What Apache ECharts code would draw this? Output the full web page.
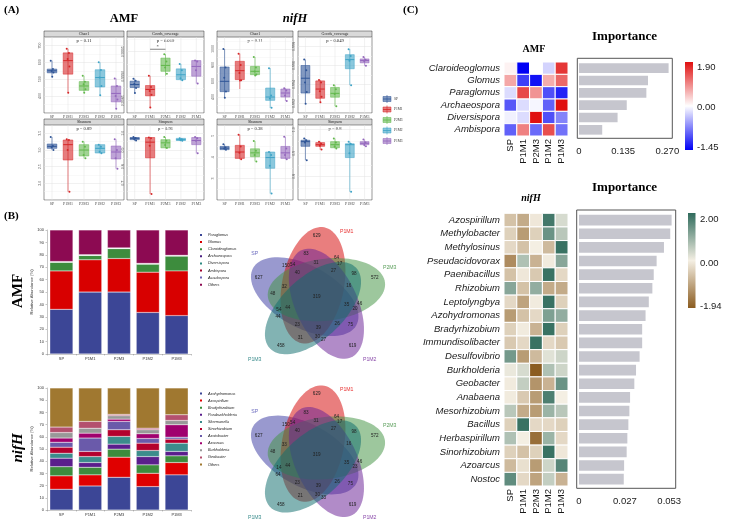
<!DOCTYPE html>
<html><head><meta charset="utf-8">
<script src="https://cdn.jsdelivr.net/npm/echarts@6.0.0/dist/echarts.min.js"></script>
<style>html,body{margin:0;padding:0;background:#fff;}#chart{width:730px;height:525px;}</style>
</head><body><div id="chart"></div>
<script>
// ======================= DATA =======================
const groups = ['SP', 'P1M1', 'P2M3', 'P1M2', 'P1M3'];

// ---- Panel A: box statistics [min, Q1, median, Q3, max] and sample points ----
const amfChao1Box = [[515,538,550,560,610],[420,530,610,656,680],[420,434,460,486,520],[405,454,510,556,600],[325,366,416,460,505]];
const amfChao1Pts = [[610,560,548,540,515],[680,655,620,575,420],[520,485,470,440,420],[600,555,510,460,405],[505,460,400,380,325]];
const amfChao1Ticks = ['400','500','600','700'];

const amfGoodsBox = [[0.99865,0.99877,0.99883,0.99890,0.99895],[0.99836,0.99860,0.99873,0.99881,0.99901],[0.99901,0.99910,0.99922,0.99937,0.99945],[0.99891,0.99893,0.99903,0.99915,0.99925],[0.99885,0.99900,0.99920,0.99932,0.99932]];
const amfGoodsPts = [[0.99895,0.99891,0.99884,0.99876,0.99866],[0.99901,0.99878,0.99870,0.99862,0.99836],[0.99945,0.99930,0.99918,0.99905],[0.99925,0.99912,0.99896,0.99892],[0.99932,0.99930,0.99912,0.99885]];
const amfGoodsTicks = ['0.9985','0.9990','0.9995'];
const amfGoodsSig = [1, 2, 0.99955];

const nifChao1Box = [[388,467,596,775,1000],[500,617,729,846,942],[667,679,721,783,900],[262,358,400,512,762],[350,400,450,500,510]];
const nifChao1Pts = [[1000,770,640,470,390],[940,800,700,610,605],[900,770,720,680,670],[760,420,380,265],[510,480,420,350]];
const nifChao1Ticks = ['400','600','800','1000'];

const nifGoodsBox = [[0.99197,0.9931,0.99466,0.9960,0.99662],[0.99214,0.99255,0.99352,0.99438,0.99448],[0.99172,0.99266,0.99307,0.99369,0.99393],[0.99393,0.99566,0.99662,0.99714,0.99772],[0.99597,0.99628,0.99652,0.99669,0.99690]];
const nifGoodsPts = [[0.99662,0.99550,0.99420,0.99320,0.99197],[0.99448,0.99420,0.99330,0.99270,0.99214],[0.99393,0.99350,0.99300,0.99172],[0.99772,0.99700,0.99650,0.99393],[0.99690,0.99660,0.99645,0.99597]];
const nifGoodsTicks = ['0.992','0.994','0.996','0.998'];

const amfShannonBox = [[3.0,3.05,3.11,3.18,3.39],[1.75,2.70,3.16,3.30,3.32],[2.75,2.82,3.0,3.16,3.25],[2.90,2.91,3.05,3.16,3.16],[2.44,2.73,2.94,3.12,3.32]];
const amfShannonPts = [[3.39,3.12,3.08,3.0],[3.32,3.30,3.0,1.75],[3.25,3.10,2.85,2.75],[3.16,3.10,2.95,2.90],[3.32,3.0,2.75,2.44]];
const amfShannonTicks = ['2.0','2.5','3.0','3.5'];

const amfSimpsonBox = [[0.955,0.962,0.97,0.975,0.978],[0.636,0.853,0.947,0.975,0.975],[0.91,0.913,0.943,0.962,0.978],[0.955,0.957,0.962,0.97,0.97],[0.88,0.932,0.957,0.975,0.978]];
const amfSimpsonPts = [[0.978,0.972,0.965,0.957],[0.975,0.970,0.925,0.636],[0.978,0.955,0.930,0.912],[0.970,0.965,0.958,0.955],[0.978,0.970,0.955,0.880]];
const amfSimpsonTicks = ['0.7','0.8','0.9','1.0'];

const nifShannonBox = [[4.35,4.35,4.42,4.5,4.6],[3.9,3.94,4.24,4.55,5.05],[3.8,4.02,4.2,4.39,4.75],[2.3,3.48,3.98,4.24,4.24],[3.9,3.94,4.2,4.5,4.95]];
const nifShannonPts = [[4.6,4.45,4.4,4.35],[5.05,4.5,4.2,3.9],[4.75,4.3,4.1,3.8],[4.24,4.1,3.6,2.3],[4.95,4.4,4.1,3.9]];
const nifShannonTicks = ['3','4','5'];

const nifSimpsonBox = [[0.87,0.929,0.949,0.955,0.962],[0.915,0.929,0.936,0.945,0.949],[0.92,0.923,0.936,0.949,0.962],[0.735,0.881,0.936,0.94,0.949],[0.929,0.936,0.942,0.949,0.958]];
const nifSimpsonPts = [[0.962,0.955,0.945,0.87],[0.949,0.940,0.932,0.915],[0.962,0.945,0.928,0.92],[0.949,0.940,0.90,0.735],[0.958,0.945,0.935,0.929]];
const nifSimpsonTicks = ['0.8','0.9','1.0'];

// ---- Panel B: relative abundance (%) ----
const amfTaxa = ['Paraglomus','Glomus','Claroideoglomus','Archaeospora','Diversispora','Ambispora','Acaulospora','Others'];
const amfParaglomus = [36, 50, 50, 33.5, 31];
const amfGlomus = [31, 26, 27, 32.5, 36];
const amfClaroideoglomus = [7, 3.5, 8, 6.5, 12];
const amfArchaeospora = [0.2, 0.2, 0.2, 0.2, 0.2];
const amfDiversispora = [0.2, 0.2, 0.2, 0.2, 0.2];
const amfAmbispora = [0.1, 0.1, 0.1, 0.1, 0.1];
const amfAcaulospora = [0.1, 0.1, 0.1, 0.1, 0.1];
const amfOthers = [25.4, 19.9, 14.4, 26.9, 20.4];

const nifTaxa = ['Azohydromonas','Azospirillum','Bradyrhizobium','Paraburkholderia','Skermanella','Sinorhizobium','Azotobacter','Azoarcus','Burkholderia','Geobacter','Others '];
const nifAzohydromonas = [17, 19.7, 26.8, 19.2, 28.8];
const nifAzospirillum = [11, 9.1, 16.5, 10.9, 10.1];
const nifBradyrhizobium = [7.5, 6.2, 6.6, 6.9, 5.5];
const nifParaburkholderia = [7, 3.9, 4.1, 6.8, 3.6];
const nifSkermanella = [4, 4.9, 6.3, 5, 6.8];
const nifSinorhizobium = [5, 4.2, 5.5, 6, 3.3];
const nifAzotobacter = [4, 11, 6.8, 3.8, 1.6];
const nifAzoarcus = [3.5, 4, 1.9, 3.9, 10.2];
const nifBurkholderia = [4.5, 4, 2.8, 3.3, 3.5];
const nifGeobacter = [4.5, 5.6, 1.1, 1.3, 4.7];
const nifOthers = [32, 27.4, 21.6, 32.9, 21.9];

// ---- Panel B: Venn counts (order of sets: SP, P1M1, P2M3, P1M2, P1M3) ----
const vennSets = ['SP','P1M1','P2M3','P1M2','P1M3'];
const amfVennUnique = [627, 629, 572, 619, 458];
const amfVennRingB = [48, 83, 98, 75, 31];
const amfVennRingD = [32, 31, 16, 26, 23];
const amfVennRingE = [40, 27, 35, 39, 44];
const amfVennPairOuter = [150, 64, 46, 27, 44];
const amfVennPairInner = [54, 17, 20, 30, 54];
const amfVennCore = 319;
const nifVennUnique = [627, 629, 572, 619, 458];
const nifVennRingB = [48, 83, 98, 75, 21];
const nifVennRingD = [33, 31, 16, 26, 23];
const nifVennRingE = [40, 27, 35, 39, 44];
const nifVennPairOuter = [150, 64, 46, 33, 64];
const nifVennPairInner = [54, 17, 23, 30, 14];
const nifVennCore = 319;

// ---- Panel C: z-scores and importance ----
const amfGenera = ['Claroideoglomus','Glomus','Paraglomus','Archaeospora','Diversispora','Ambispora'];
const amfHeat = [
  [0.1, -1.45, 0.0, -0.25, 1.6],
  [0.7, -1.1, -1.35, 0.65, 1.2],
  [-0.2, 1.45, 0.85, -1.0, -1.25],
  [-0.95, -0.2, -0.05, -0.9, 1.9],
  [-0.08, -0.2, 1.9, -1.0, -0.7],
  [-0.9, 1.0, -0.85, 1.4, -0.8]];
const amfImportance = [0.274, 0.211, 0.206, 0.146, 0.118, 0.071];
const amfImpTicks = ['0', '0.135', '0.270'];
const amfScaleLabels = ['1.90', '0.00', '-1.45'];

const nifGenera = ['Azospirillum','Methylobacter','Methylosinus','Pseudacidovorax','Paenibacillus','Rhizobium','Leptolyngbya','Azohydromonas','Bradyrhizobium','Immundisolibacter','Desulfovibrio','Burkholderia','Geobacter','Anabaena','Mesorhizobium','Bacillus','Herbaspirillum','Sinorhizobium','Azoarcus','Nostoc'];
const nifHeat = [
  [-0.6,-0.9,-0.1,1.8,0.3],
  [-0.4,-1.1,-0.4,1.4,0.6],
  [-0.3,-0.6,0.0,-0.7,1.9],
  [-1.3,0.7,-0.8,-0.05,1.1],
  [-0.6,-0.1,-0.5,1.9,-0.3],
  [1.1,-0.6,1.0,-0.9,-0.9],
  [-0.3,-1.0,-0.05,1.9,-0.4],
  [-1.1,-0.6,-0.3,1.2,1.0],
  [-0.4,-0.05,-0.8,1.9,-0.4],
  [-0.5,-0.3,1.9,-0.3,-0.5],
  [1.3,-1.1,-0.7,0.2,0.4],
  [0.1,0.3,-1.94,0.7,0.4],
  [-0.05,0.5,-1.2,-0.8,1.4],
  [-0.05,-0.5,-1.1,1.7,0.0],
  [0.6,-0.9,-1.1,0.9,0.6],
  [-0.4,1.9,-0.3,-0.3,-0.4],
  [0.7,0.0,-1.7,0.9,-0.3],
  [-0.4,-0.6,-0.4,1.9,-0.1],
  [-0.7,-0.2,-1.1,0.4,1.6],
  [1.5,-0.3,-1.0,0.5,-0.8]];
const nifImportance = [0.0544,0.0536,0.0499,0.0456,0.0439,0.0431,0.0410,0.0391,0.0371,0.0371,0.0356,0.0335,0.0325,0.0300,0.0296,0.0290,0.0284,0.0280,0.0265,0.0263];
const nifImpTicks = ['0', '0.027', '0.053'];
const nifScaleLabels = ['2.00', '0.00', '-1.94'];

// ======================= STYLE / LAYOUT =======================
const FS = 'Liberation Serif, Times New Roman, serif';
const SS = 'Liberation Sans, Arial, Helvetica, sans-serif';
const boxColors = ['#2f5597', '#d62728', '#62b84c', '#3ea3c6', '#9467bd'];
const jitter = [-0.16, 0.12, -0.05, 0.18, 0.03];

function rgba(hex, a) { const n = parseInt(hex.slice(1), 16); return 'rgba(' + (n >> 16 & 255) + ',' + (n >> 8 & 255) + ',' + (n & 255) + ',' + a + ')'; }
function mix(h1, h2, t) {
  const a = parseInt(h1.slice(1), 16), b = parseInt(h2.slice(1), 16);
  const c = (s) => Math.round((a >> s & 255) * (1 - t) + (b >> s & 255) * t);
  return 'rgb(' + c(16) + ',' + c(8) + ',' + c(0) + ')';
}

const option = { backgroundColor: '#ffffff', animation: false, grid: [], xAxis: [], yAxis: [], series: [], legend: [], graphic: [] };
const G = option.graphic;
function addGrid(g) { option.grid.push(Object.assign({ containLabel: false }, g)); return option.grid.length - 1; }
function txt(x, y, text, st, rot) {
  G.push({ type: 'text', x: x, y: y, rotation: rot || 0, silent: true,
    style: Object.assign({ text: text, fill: '#000', align: 'center', verticalAlign: 'middle', fontFamily: FS, fontSize: 10 }, st || {}) });
}

// ======================= PANEL A =======================
txt(4, 10, '(A)', { fontWeight: 'bold', fontSize: 11, align: 'left' });
txt(124, 19, 'AMF', { fontWeight: 'bold', fontSize: 12.5 });
txt(295, 19, 'nifH', { fontWeight: 'bold', fontStyle: 'italic', fontSize: 12.5 });

const aPanels = [
  { strip: 'Chao1', p: 'p = 0.11', box: amfChao1Box, pts: amfChao1Pts, ticks: amfChao1Ticks, min: 300, max: 750, step: 50, rect: [44, 37, 80, 76] },
  { strip: 'Goods_coverage', p: 'p = 0.019', box: amfGoodsBox, pts: amfGoodsPts, ticks: amfGoodsTicks, min: 0.99825, max: 0.9998, step: 0.00025, rect: [127, 37, 77, 76], sig: amfGoodsSig },
  { strip: 'Chao1', p: 'p = 0.11', box: nifChao1Box, pts: nifChao1Pts, ticks: nifChao1Ticks, min: 200, max: 1150, step: 100, rect: [217, 37, 76, 76] },
  { strip: 'Goods_coverage', p: 'p = 0.049', box: nifGoodsBox, pts: nifGoodsPts, ticks: nifGoodsTicks, min: 0.991, max: 0.999, step: 0.001, rect: [298, 37, 74, 76] },
  { strip: 'Shannon', p: 'p = 0.89', box: amfShannonBox, pts: amfShannonPts, ticks: amfShannonTicks, min: 1.5, max: 3.75, step: 0.25, rect: [44, 125, 80, 75] },
  { strip: 'Simpson', p: 'p = 0.91', box: amfSimpsonBox, pts: amfSimpsonPts, ticks: amfSimpsonTicks, min: 0.6, max: 1.05, step: 0.05, rect: [127, 125, 77, 75] },
  { strip: 'Shannon', p: 'p = 0.38', box: nifShannonBox, pts: nifShannonPts, ticks: nifShannonTicks, min: 2, max: 5.5, step: 0.5, rect: [217, 125, 76, 75] },
  { strip: 'Simpson', p: 'p = 0.8', box: nifSimpsonBox, pts: nifSimpsonPts, ticks: nifSimpsonTicks, min: 0.7, max: 1.02, step: 0.05, rect: [298, 125, 74, 75] }
];

aPanels.forEach(function (pn) {
  const l = pn.rect[0], t = pn.rect[1], w = pn.rect[2], h = pn.rect[3];
  const gi = addGrid({ left: l, top: t, width: w, height: h, show: true, borderColor: '#333', borderWidth: 0.5, backgroundColor: '#fff' });
  option.xAxis.push({ gridIndex: gi, type: 'category', data: groups, axisLine: { show: false }, axisTick: { show: false }, splitLine: { show: false },
    axisLabel: { interval: 0, fontSize: 4, fontFamily: FS, color: '#4d4d4d', margin: 2 } });
  const major = pn.step * 2;
  const isMaj = (v) => Math.abs(v / major - Math.round(v / major)) < 1e-6;
  const majC = '#e2e2e2', minC = '#f3f3f3';
  option.yAxis.push({ gridIndex: gi, type: 'value', min: pn.min, max: pn.max, interval: pn.step,
    axisLine: { show: false }, axisTick: { show: false },
    axisLabel: { rotate: 90, fontSize: 4, fontFamily: FS, color: '#4d4d4d', margin: 2, showMinLabel: true, showMaxLabel: true,
      formatter: function (v) { const hit = pn.ticks.find((s) => Math.abs(parseFloat(s) - v) < pn.step * 1e-3); return hit || ''; } },
    splitLine: { show: true, lineStyle: { color: isMaj(pn.min) ? [majC, minC] : [minC, majC], width: 0.5 } } });
  option.series.push({ type: 'custom', xAxisIndex: gi, yAxisIndex: gi, z: 2,
    data: pn.box.map((b, i) => [i].concat(b)), encode: { x: 0, y: [1, 2, 3, 4, 5] },
    renderItem: function (params, api) {
      const i = api.value(0), c = boxColors[i];
      const q = [1, 2, 3, 4, 5].map((k) => api.coord([i, api.value(k)]));
      const x = q[2][0], bw = api.size([1, 0])[0] * 0.6;
      const cs = params.coordSys;
      return { type: 'group', children: [
        { type: 'line', shape: { x1: x, y1: cs.y, x2: x, y2: cs.y + cs.height }, style: { stroke: '#e2e2e2', lineWidth: 0.5 } },
        { type: 'line', shape: { x1: x, y1: q[4][1], x2: x, y2: q[0][1] }, style: { stroke: c, lineWidth: 0.6 } },
        { type: 'rect', shape: { x: x - bw / 2, y: q[3][1], width: bw, height: Math.max(0.5, q[1][1] - q[3][1]) }, style: { fill: rgba(c, 0.6), stroke: c, lineWidth: 0.5 } },
        { type: 'line', shape: { x1: x - bw / 2, y1: q[2][1], x2: x + bw / 2, y2: q[2][1] }, style: { stroke: c, lineWidth: 1 } }
      ] };
    } });
  const ptsData = [];
  pn.pts.forEach((arr, i) => arr.forEach((v, k) => ptsData.push([i, v, k])));
  option.series.push({ type: 'custom', xAxisIndex: gi, yAxisIndex: gi, z: 3, data: ptsData, encode: { x: 0, y: 1 },
    renderItem: function (params, api) {
      const i = api.value(0), k = api.value(2);
      const p = api.coord([i, api.value(1)]);
      const bw = api.size([1, 0])[0];
      return { type: 'circle', shape: { cx: p[0] + jitter[k % jitter.length] * bw * 0.5, cy: p[1], r: 1 }, style: { fill: boxColors[i] } };
    } });
  if (pn.sig) {
    option.series.push({ type: 'custom', xAxisIndex: gi, yAxisIndex: gi, z: 4, data: [pn.sig], encode: { x: [0, 1], y: 2 },
      renderItem: function (params, api) {
        const a = api.coord([api.value(0), api.value(2)]), b = api.coord([api.value(1), api.value(2)]);
        return { type: 'group', children: [
          { type: 'line', shape: { x1: a[0], y1: a[1], x2: b[0], y2: b[1] }, style: { stroke: '#333', lineWidth: 0.6 } },
          { type: 'text', x: (a[0] + b[0]) / 2, y: a[1] - 3, style: { text: '*', fill: '#333', fontSize: 5, fontFamily: FS, align: 'center', verticalAlign: 'middle' } }
        ] };
      } });
  }
  G.push({ type: 'rect', silent: true, shape: { x: l, y: t - 6, width: w, height: 6 }, style: { fill: '#d9d9d9', stroke: '#333', lineWidth: 0.5 } });
  txt(l + w / 2, t - 3, pn.strip, { fontSize: 4, fill: '#1a1a1a' });
  txt(l + w / 2, t + 4, pn.p, { fontSize: 4.6, fill: '#1a1a1a' });
});

groups.forEach(function (g, i) {
  const y = 99 + 10.5 * i, c = boxColors[i];
  G.push({ type: 'line', silent: true, shape: { x1: 387, y1: y - 4, x2: 387, y2: y + 4 }, style: { stroke: c, lineWidth: 0.6 } });
  G.push({ type: 'rect', silent: true, shape: { x: 383, y: y - 2.5, width: 8, height: 5 }, style: { fill: rgba(c, 0.6), stroke: c, lineWidth: 0.5 } });
  G.push({ type: 'line', silent: true, shape: { x1: 383, y1: y, x2: 391, y2: y }, style: { stroke: c, lineWidth: 0.8 } });
  txt(394, y, g, { fontSize: 3.5, align: 'left', fill: '#333' });
});

// ======================= PANEL B =======================
txt(4, 216, '(B)', { fontWeight: 'bold', fontSize: 11, align: 'left' });
txt(18, 291, 'AMF', { fontWeight: 'bold', fontSize: 15 }, Math.PI / 2);
txt(18, 448, 'nifH', { fontWeight: 'bold', fontStyle: 'italic', fontSize: 15 }, Math.PI / 2);

const amfTaxaColors = ['#3c4696', '#d80000', '#3d8c3d', '#4b2082', '#2d8a82', '#a0002a', '#6e64b4', '#8c0a52'];
const amfAbundance = [amfParaglomus, amfGlomus, amfClaroideoglomus, amfArchaeospora, amfDiversispora, amfAmbispora, amfAcaulospora, amfOthers];
const nifTaxaColors = ['#3c4696', '#e00000', '#3d8c3d', '#5a1e8c', '#3c8c8c', '#b4002d', '#6a5aaa', '#a0006e', '#999999', '#b4506e', '#a07830'];
const nifAbundance = [nifAzohydromonas, nifAzospirillum, nifBradyrhizobium, nifParaburkholderia, nifSkermanella, nifSinorhizobium, nifAzotobacter, nifAzoarcus, nifBurkholderia, nifGeobacter, nifOthers];

function stackedBars(rect, taxa, colors, values, stackId, legTop) {
  const gi = addGrid({ left: rect[0], top: rect[1], width: rect[2], height: rect[3] });
  const axCol = '#8c8c8c';
  option.xAxis.push({ gridIndex: gi, type: 'category', data: groups, axisLine: { lineStyle: { color: axCol, width: 0.5 } },
    axisTick: { show: true, length: 1.5, lineStyle: { color: axCol, width: 0.5 } },
    axisLabel: { fontSize: 4, fontFamily: SS, color: '#333', margin: 3 } });
  option.yAxis.push({ gridIndex: gi, type: 'value', min: 0, max: 100, interval: 10,
    axisLine: { show: true, lineStyle: { color: axCol, width: 0.5 } }, axisTick: { show: true, length: 1.5, lineStyle: { color: axCol, width: 0.5 } },
    axisLabel: { fontSize: 4, fontFamily: SS, color: '#333', margin: 3 }, splitLine: { show: false },
    name: 'Relative Abundance (%)', nameLocation: 'middle', nameGap: 13, nameTextStyle: { fontSize: 4.2, fontFamily: SS, color: '#333' } });
  taxa.forEach(function (name, k) {
    option.series.push({ type: 'bar', name: name, stack: stackId, xAxisIndex: gi, yAxisIndex: gi, barWidth: '80%',
      data: values[k], itemStyle: { color: colors[k], borderColor: '#fff', borderWidth: 0.3 } });
  });
  option.legend.push({ orient: 'vertical', left: 198, top: legTop, padding: 0, itemWidth: 4, itemHeight: 4, itemGap: 1.1, icon: 'rect',
    selectedMode: false, data: taxa, textStyle: { fontSize: 3.8, lineHeight: 4, fontFamily: SS, fontStyle: 'italic', color: '#222' } });
}
stackedBars([47, 230, 144, 124], amfTaxa, amfTaxaColors, amfAbundance, 'amf', 232);
stackedBars([47, 388, 144, 122], nifTaxa, nifTaxaColors, nifAbundance, 'nif', 390.5);

// Venn diagrams
const setAngles = [162, 90, 18, -54, -126];
const vennFill = ['#3c3ca3', '#d50808', '#449444', '#692196', '#0f6e6e'];
const vennLabelColors = ['#6b6bbf', '#e83030', '#5a9e5a', '#8a4aaa', '#3a8c8c'];
const vennGeom = { d: 12, dirOff: 18, a: 59, b: 31, axisOff: -11 };
const ringLayout = [{ r: 61, off: 0 }, { r: 44, off: 14 }, { r: 34, off: 1 }, { r: 31, off: -33 }, { r: 43.5, off: -27 }, { r: 40, off: -35 }];
const setLabelPos = [[-62, 43], [30, 65], [73, 29], [53, -63], [-62, -63]];

function venn(cx, cy, rings, core) {
  const gi = addGrid({ left: cx - 70, top: cy - 70, width: 140, height: 140 });
  option.xAxis.push({ gridIndex: gi, type: 'value', min: -70, max: 70, show: false });
  option.yAxis.push({ gridIndex: gi, type: 'value', min: -70, max: 70, show: false });
  option.series.push({ type: 'custom', xAxisIndex: gi, yAxisIndex: gi, z: 2, data: vennSets.map((s, i) => [0, 0, i]), encode: { x: 0, y: 1 },
    renderItem: function (params, api) {
      const i = api.value(2), rad = Math.PI / 180;
      const cAng = (setAngles[i] + vennGeom.dirOff) * rad, phi = (setAngles[i] + vennGeom.axisOff) * rad;
      const ecx = vennGeom.d * Math.cos(cAng), ecy = vennGeom.d * Math.sin(cAng);
      const pts = [];
      for (let k = 0; k < 90; k++) {
        const tt = k / 90 * 2 * Math.PI;
        const lx = vennGeom.a * Math.cos(tt), ly = vennGeom.b * Math.sin(tt);
        pts.push(api.coord([ecx + lx * Math.cos(phi) - ly * Math.sin(phi), ecy + lx * Math.sin(phi) + ly * Math.cos(phi)]));
      }
      return { type: 'polygon', shape: { points: pts }, style: { fill: rgba(vennFill[i], 0.52) } };
    } });
  const numData = [[0, 0, core]];
  rings.forEach(function (vals, r) {
    vals.forEach(function (v, i) {
      const ang = (setAngles[i] + ringLayout[r].off) * Math.PI / 180;
      numData.push([ringLayout[r].r * Math.cos(ang), ringLayout[r].r * Math.sin(ang), v]);
    });
  });
  option.series.push({ type: 'custom', xAxisIndex: gi, yAxisIndex: gi, z: 3, data: numData, encode: { x: 0, y: 1 },
    renderItem: function (params, api) {
      const p = api.coord([api.value(0), api.value(1)]);
      return { type: 'text', x: p[0], y: p[1], style: { text: String(api.value(2)), fill: '#222', fontSize: 4.6, fontFamily: SS, align: 'center', verticalAlign: 'middle' } };
    } });
  option.series.push({ type: 'custom', xAxisIndex: gi, yAxisIndex: gi, z: 3, data: setLabelPos.map((p, i) => [p[0], p[1], i]), encode: { x: 0, y: 1 },
    renderItem: function (params, api) {
      const p = api.coord([api.value(0), api.value(1)]), i = api.value(2);
      return { type: 'text', x: p[0], y: p[1], style: { text: vennSets[i], fill: vennLabelColors[i], fontSize: 5.2, fontFamily: SS, align: 'center', verticalAlign: 'middle' } };
    } });
}
venn(316.7, 296.7, [amfVennUnique, amfVennRingB, amfVennRingD, amfVennRingE, amfVennPairOuter, amfVennPairInner], amfVennCore);
venn(316.7, 455, [nifVennUnique, nifVennRingB, nifVennRingD, nifVennRingE, nifVennPairOuter, nifVennPairInner], nifVennCore);

// ======================= PANEL C =======================
txt(403, 10, '(C)', { fontWeight: 'bold', fontSize: 11, align: 'left' });

function heatPanel(o) {
  const hg = addGrid({ left: o.heat[0], top: o.heat[1], width: o.heat[2], height: o.heat[3] });
  option.xAxis.push({ gridIndex: hg, type: 'category', data: groups, position: 'bottom', axisLine: { show: false }, axisTick: { show: false },
    axisLabel: { interval: 0, rotate: 90, fontSize: 9.5, fontFamily: SS, color: '#1a1a1a', margin: 3 } });
  option.yAxis.push({ gridIndex: hg, type: 'category', data: o.genera, inverse: true, axisLine: { show: false }, axisTick: { show: false },
    axisLabel: { interval: 0, fontSize: 9.5, fontStyle: 'italic', fontFamily: SS, color: '#1a1a1a', margin: 4 } });
  const cells = [];
  o.values.forEach((row, r) => row.forEach((v, c) => cells.push([c, r, v])));
  option.series.push({ type: 'custom', xAxisIndex: hg, yAxisIndex: hg, data: cells, encode: { x: 0, y: 1 },
    renderItem: function (params, api) {
      const p = api.coord([api.value(0), api.value(1)]), s = api.size([1, 1]);
      return { type: 'rect', shape: { x: p[0] - s[0] / 2, y: p[1] - s[1] / 2, width: s[0], height: s[1] },
        style: { fill: o.colorFn(api.value(2)), stroke: '#ffffff', lineWidth: 1 } };
    } });
  const ig = addGrid({ left: o.imp[0], top: o.heat[1], width: o.imp[2], height: o.heat[3] });
  option.xAxis.push({ gridIndex: ig, type: 'value', min: 0, max: o.impMax, axisLine: { show: false }, axisTick: { show: false }, splitLine: { show: false },
    axisLabel: { customValues: o.impTicks.map(parseFloat), fontSize: 9.5, fontFamily: SS, color: '#1a1a1a', margin: o.labMargin,
      formatter: function (v) { const hit = o.impTicks.find((s) => Math.abs(parseFloat(s) - v) < 1e-6); return hit || ''; } } });
  option.yAxis.push({ gridIndex: ig, type: 'category', data: o.genera, inverse: true, show: false });
  option.series.push({ type: 'bar', xAxisIndex: ig, yAxisIndex: ig, data: o.importance, barWidth: '78%', itemStyle: { color: '#c6c6ce' } });
  G.push({ type: 'rect', silent: true, shape: { x: o.box[0], y: o.box[1], width: o.box[2], height: o.box[3] }, style: { fill: 'none', stroke: '#555', lineWidth: 1 } });
  const cb = o.cbar;
  G.push({ type: 'rect', silent: true, shape: { x: cb[0], y: cb[1], width: cb[2], height: cb[3] },
    style: { fill: { type: 'linear', x: 0, y: 0, x2: 0, y2: 1, colorStops: [{ offset: 0, color: o.hi }, { offset: 0.5, color: o.mid }, { offset: 1, color: o.lo }] } } });
  o.scaleLabels.forEach((s, k) => txt(o.cbLabX, o.cbLabY[k], s, { fontSize: 9.5, fontFamily: SS, align: 'left', fill: '#1a1a1a' }));
  txt(624.5, o.titleY, 'Importance', { fontWeight: 'bold', fontSize: 13 });
  txt(o.nameX, o.nameY, o.name, { fontWeight: 'bold', fontSize: 10, fontStyle: o.italic ? 'italic' : 'normal' });
}

const amfHi = '#e01010', amfMid = '#ffffff', amfLo = '#0000f5';
const amfMax = parseFloat(amfScaleLabels[0]), amfMin = parseFloat(amfScaleLabels[2]);
const nifHi = '#2f6b5c', nifMid = '#f4efe3', nifLo = '#8b5c20';
const nifMax = parseFloat(nifScaleLabels[0]), nifMin = parseFloat(nifScaleLabels[2]);

heatPanel({ heat: [504, 62, 64, 74], imp: [579, 62, 93.3], impMax: 0.2853, impTicks: amfImpTicks, labMargin: 10,
  genera: amfGenera, values: amfHeat, importance: amfImportance, box: [577.3, 58.3, 95, 80],
  colorFn: (v) => v >= 0 ? mix(amfMid, amfHi, Math.min(1, v / amfMax)) : mix(amfMid, amfLo, Math.min(1, v / amfMin)),
  cbar: [685, 62, 8, 88], hi: amfHi, mid: amfMid, lo: amfLo, scaleLabels: amfScaleLabels, cbLabX: 697, cbLabY: [67, 107, 147],
  titleY: 37, name: 'AMF', nameX: 534, nameY: 49, italic: false });

heatPanel({ heat: [504, 213.3, 64, 272.7], imp: [579, 213.3, 96.7], impMax: 0.0568, impTicks: nifImpTicks, labMargin: 10.5,
  genera: nifGenera, values: nifHeat, importance: nifImportance, box: [576.7, 210, 99, 278.3],
  colorFn: (v) => v >= 0 ? mix(nifMid, nifHi, Math.min(1, v / nifMax)) : mix(nifMid, nifLo, Math.min(1, v / nifMin)),
  cbar: [688, 213, 7.5, 95], hi: nifHi, mid: nifMid, lo: nifLo, scaleLabels: nifScaleLabels, cbLabX: 700, cbLabY: [219, 263, 306],
  titleY: 187.5, name: 'nifH', nameX: 531, nameY: 198, italic: true });

const chart = echarts.init(document.getElementById('chart'));
chart.setOption(option);
</script>
</body></html>
